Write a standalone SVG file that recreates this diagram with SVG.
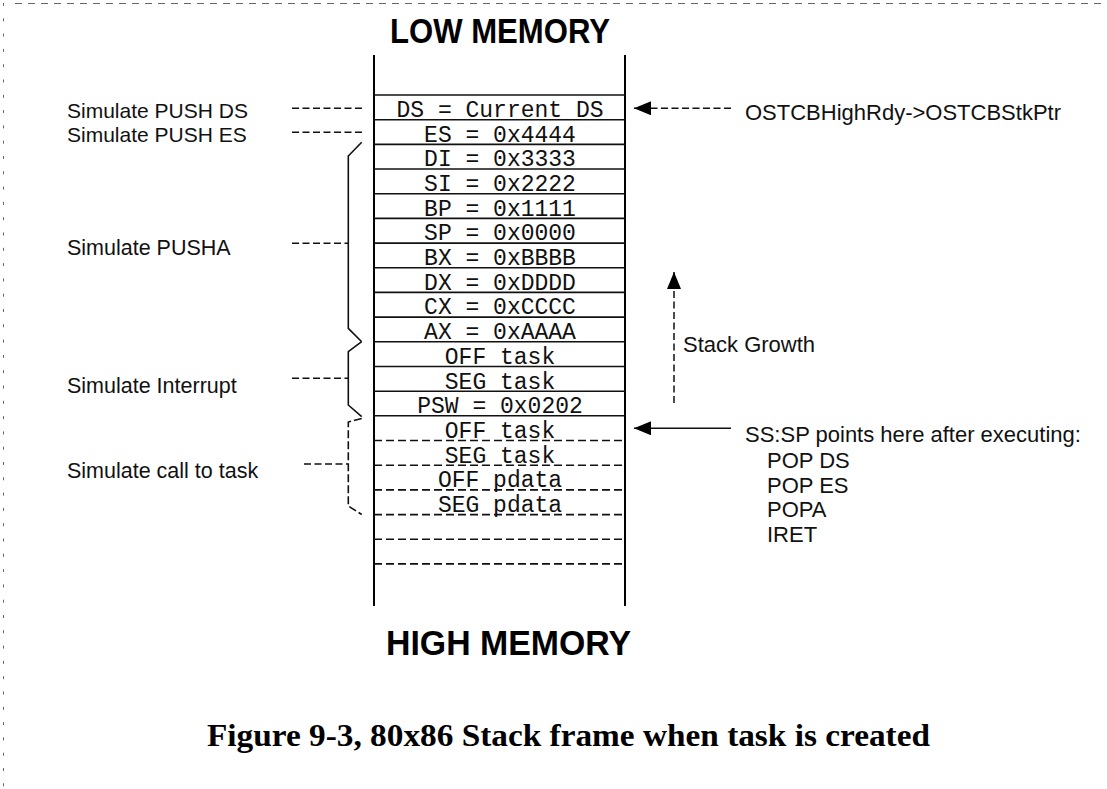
<svg xmlns="http://www.w3.org/2000/svg" width="1107" height="789" viewBox="0 0 1107 789">
<style>
.bg{fill:#ffffff}
.mono{font-family:"Liberation Mono","DejaVu Sans Mono",monospace;font-size:23px;fill:#111;text-anchor:middle}
.lbl{font-family:"Liberation Sans",Arial,sans-serif;font-size:21.5px;fill:#111}
.big{font-family:"Liberation Sans",Arial,sans-serif;font-size:35px;font-weight:bold;fill:#000}
.cap{font-family:"Liberation Serif","Times New Roman",serif;font-size:31px;font-weight:bold;fill:#000}
.wall{stroke:#000;stroke-width:2;fill:none}
.row{stroke:#111;stroke-width:1.6}
.rowd{stroke:#111;stroke-width:1.6;stroke-dasharray:8 4}
.lead{stroke:#111;stroke-width:1.5;stroke-dasharray:7 3.5;fill:none}
.brace{stroke:#111;stroke-width:1.6;fill:none}
.braced{stroke:#111;stroke-width:1.6;fill:none;stroke-dasharray:8 3}
.solid{stroke:#111;stroke-width:1.6;fill:none}
.border{stroke:#666;stroke-width:1;fill:none}
</style>
<defs>
<marker id="ah" markerUnits="userSpaceOnUse" markerWidth="18" markerHeight="16" refX="17" refY="7" orient="auto">
<path d="M0,0 L17,7 L0,14 z" fill="#000"/>
</marker>
</defs>
<rect class="bg" x="0" y="0" width="1107" height="789"/>
<g id="frame">
<line class="border" x1="15" y1="3.5" x2="1107" y2="3.5" stroke-dasharray="7 6"/>
<line class="border" x1="3.5" y1="3" x2="3.5" y2="789" stroke-dasharray="3 12.3"/>
</g>
<g id="low-memory"><text class="big" x="390" y="43" textLength="220" lengthAdjust="spacingAndGlyphs">LOW MEMORY</text></g>
<g id="high-memory"><text class="big" x="386" y="655" textLength="245" lengthAdjust="spacingAndGlyphs">HIGH MEMORY</text></g>
<g id="caption"><text class="cap" x="207" y="746" textLength="723" lengthAdjust="spacingAndGlyphs">Figure 9-3, 80x86 Stack frame when task is created</text></g>
<g id="stack">
<line class="wall" x1="374" y1="55" x2="374" y2="606"/>
<line class="wall" x1="625" y1="55" x2="625" y2="606"/>
<line class="row" x1="374" y1="95" x2="625" y2="95"/>
</g>
<g id="row-ds"><line class="row" x1="374" y1="119.7" x2="625" y2="119.7"/><text class="mono" x="500" y="117">DS = Current DS</text></g>
<g id="row-es"><line class="row" x1="374" y1="144.4" x2="625" y2="144.4"/><text class="mono" x="500" y="141.7">ES = 0x4444</text></g>
<g id="row-di"><line class="row" x1="374" y1="169" x2="625" y2="169"/><text class="mono" x="500" y="166.4">DI = 0x3333</text></g>
<g id="row-si"><line class="row" x1="374" y1="193.7" x2="625" y2="193.7"/><text class="mono" x="500" y="191">SI = 0x2222</text></g>
<g id="row-bp"><line class="row" x1="374" y1="218.4" x2="625" y2="218.4"/><text class="mono" x="500" y="215.7">BP = 0x1111</text></g>
<g id="row-sp"><line class="row" x1="374" y1="243.1" x2="625" y2="243.1"/><text class="mono" x="500" y="240.4">SP = 0x0000</text></g>
<g id="row-bx"><line class="row" x1="374" y1="267.8" x2="625" y2="267.8"/><text class="mono" x="500" y="265.1">BX = 0xBBBB</text></g>
<g id="row-dx"><line class="row" x1="374" y1="292.4" x2="625" y2="292.4"/><text class="mono" x="500" y="289.8">DX = 0xDDDD</text></g>
<g id="row-cx"><line class="row" x1="374" y1="317.1" x2="625" y2="317.1"/><text class="mono" x="500" y="314.4">CX = 0xCCCC</text></g>
<g id="row-ax"><line class="row" x1="374" y1="341.8" x2="625" y2="341.8"/><text class="mono" x="500" y="339.1">AX = 0xAAAA</text></g>
<g id="row-off-task1"><line class="row" x1="374" y1="366.5" x2="625" y2="366.5"/><text class="mono" x="500" y="363.8">OFF task</text></g>
<g id="row-seg-task1"><line class="row" x1="374" y1="391.2" x2="625" y2="391.2"/><text class="mono" x="500" y="388.5">SEG task</text></g>
<g id="row-psw"><line class="row" x1="374" y1="415.8" x2="625" y2="415.8"/><text class="mono" x="500" y="413.2">PSW = 0x0202</text></g>
<g id="row-off-task2"><line class="rowd" x1="374" y1="440.5" x2="625" y2="440.5"/><text class="mono" x="500" y="437.9">OFF task</text></g>
<g id="row-seg-task2"><line class="rowd" x1="374" y1="465.2" x2="625" y2="465.2"/><text class="mono" x="500" y="462.5">SEG task</text></g>
<g id="row-off-pdata"><line class="rowd" x1="374" y1="489.9" x2="625" y2="489.9"/><text class="mono" x="500" y="487.2">OFF pdata</text></g>
<g id="row-seg-pdata"><line class="rowd" x1="374" y1="514.6" x2="625" y2="514.6"/><text class="mono" x="500" y="511.9">SEG pdata</text></g>
<g id="row-empty1"><line class="rowd" x1="374" y1="539.2" x2="625" y2="539.2"/></g>
<g id="row-empty2"><line class="rowd" x1="374" y1="563.9" x2="625" y2="563.9"/></g>
<g id="label-push-ds"><text class="lbl" x="67" y="117.5" style="font-size:21px">Simulate PUSH DS</text></g>
<g id="label-push-es"><text class="lbl" x="67" y="141.5" style="font-size:21px">Simulate PUSH ES</text></g>
<g id="label-pusha"><text class="lbl" x="67" y="255">Simulate PUSHA</text></g>
<g id="label-interrupt"><text class="lbl" x="67" y="392.5">Simulate Interrupt</text></g>
<g id="label-call"><text class="lbl" x="67" y="478">Simulate call to task</text></g>
<g id="label-stkptr"><text class="lbl" x="745" y="119.5" style="font-size:22px">OSTCBHighRdy-&gt;OSTCBStkPtr</text></g>
<g id="label-growth"><text class="lbl" x="683" y="351.5" style="font-size:22px">Stack Growth</text></g>
<g id="label-sssp"><text class="lbl" x="745" y="441.7" style="font-size:22px">SS:SP points here after executing:</text>
<text class="lbl" x="767" y="468" style="font-size:22px">POP DS</text>
<text class="lbl" x="767" y="492.5" style="font-size:22px">POP ES</text>
<text class="lbl" x="767" y="517" style="font-size:22px">POPA</text>
<text class="lbl" x="767" y="541.5" style="font-size:22px">IRET</text></g>
<g id="connectors">
<line class="lead" x1="292" y1="108.3" x2="363" y2="108.3"/>
<line class="lead" x1="292" y1="132.3" x2="363" y2="132.3"/>
<line class="lead" x1="292" y1="243.3" x2="348" y2="243.3"/>
<line class="lead" x1="292" y1="378.3" x2="348" y2="378.3"/>
<line class="lead" x1="304" y1="464" x2="348" y2="464"/>
<path class="brace" d="M361.7,142.3 L348.3,156 L348.3,328.3 L361.7,341.7"/>
<path class="brace" d="M361.7,341.7 L348.3,351.7 L348.3,405 L361.7,416.7"/>
<path class="braced" d="M361.7,418.5 L348.3,422 L348.3,506 L361.7,514.5"/>
<line class="lead" x1="731" y1="108.3" x2="634" y2="108.3" marker-end="url(#ah)"/>
<line class="solid" x1="731" y1="428.3" x2="634" y2="428.3" marker-end="url(#ah)"/>
<line class="lead" x1="674" y1="403" x2="674" y2="272" stroke-dasharray="8 3" marker-end="url(#ah)"/>
</g>
</svg>
